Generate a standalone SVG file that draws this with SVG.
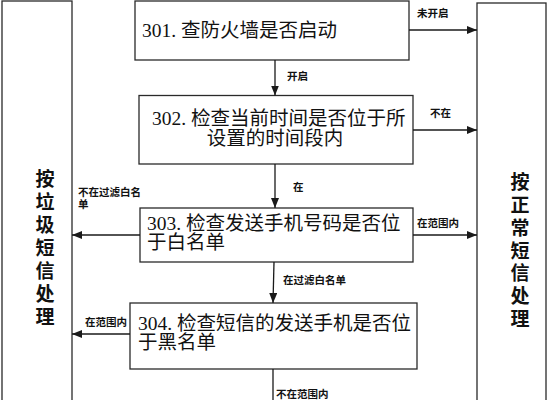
<svg xmlns="http://www.w3.org/2000/svg" width="548" height="400" viewBox="0 0 548 400">
<defs>
<marker id="ah" markerWidth="10" markerHeight="8" refX="10" refY="4" orient="auto" markerUnits="userSpaceOnUse">
<path d="M0,0 L10,4 L0,8 Z" fill="#1a1a1a"/>
</marker>
<style>
.box{fill:#fff;stroke:#2a2a2a;stroke-width:1.3}
.main{font-family:"Liberation Serif","Noto Sans CJK SC",serif;font-size:19.5px;fill:#111}
.side{font-family:"Liberation Serif","Noto Sans CJK SC",serif;font-size:19px;font-weight:bold;fill:#111;text-anchor:middle}
.lbl{font-family:"Liberation Serif","Noto Sans CJK SC",serif;font-size:10.5px;font-weight:bold;fill:#111}
.conn line{stroke:#1a1a1a;stroke-width:1.3;fill:none}
</style>
</defs>
<rect width="548" height="400" fill="#fff"/>
<g id="junk">
<rect class="box" x="2" y="1" width="70" height="410"/>
<text class="side"><tspan x="45" y="186">按</tspan><tspan x="45" y="209">垃</tspan><tspan x="45" y="232">圾</tspan><tspan x="45" y="255">短</tspan><tspan x="45" y="278">信</tspan><tspan x="45" y="301">处</tspan><tspan x="45" y="324">理</tspan></text>
</g>
<g id="normal">
<rect class="box" x="477" y="3" width="69" height="410"/>
<text class="side"><tspan x="520" y="189">按</tspan><tspan x="520" y="212">正</tspan><tspan x="520" y="235">常</tspan><tspan x="520" y="257.5">短</tspan><tspan x="520" y="280">信</tspan><tspan x="520" y="303">处</tspan><tspan x="520" y="325.5">理</tspan></text>
</g>
<g id="n301">
<rect class="box" x="135" y="1" width="274" height="59"/>
<text class="main" x="142" y="37">301. 查防火墙是否启动</text>
</g>
<g id="n302">
<rect class="box" x="139" y="95.5" width="274" height="68.5"/>
<text class="main"><tspan x="152" y="125">302. 检查当前时间是否位于所</tspan><tspan x="275" y="145" text-anchor="middle">设置的时间段内</tspan></text>
</g>
<g id="n303">
<rect class="box" x="140" y="208" width="273" height="54"/>
<text class="main"><tspan x="147" y="230">303. 检查发送手机号码是否位</tspan><tspan x="147" y="249">于白名单</tspan></text>
</g>
<g id="n304">
<rect class="box" x="130" y="303" width="287" height="66"/>
<text class="main"><tspan x="138" y="330">304. 检查短信的发送手机是否位</tspan><tspan x="138" y="349">于黑名单</tspan></text>
</g>
<g id="connectors" class="conn">
<line x1="409" y1="30" x2="477" y2="30" marker-end="url(#ah)"/>
<line x1="275" y1="60" x2="275" y2="95.5" marker-end="url(#ah)"/>
<line x1="413" y1="130" x2="477" y2="130" marker-end="url(#ah)"/>
<line x1="275" y1="164" x2="275" y2="208" marker-end="url(#ah)"/>
<line x1="140" y1="235" x2="72" y2="235" marker-end="url(#ah)"/>
<line x1="413" y1="235" x2="477" y2="235" marker-end="url(#ah)"/>
<line x1="274" y1="262" x2="273" y2="303" marker-end="url(#ah)"/>
<line x1="130" y1="334" x2="72" y2="334" marker-end="url(#ah)"/>
<line x1="273" y1="369" x2="273" y2="400"/>
</g>
<g id="labels">
<text class="lbl" x="417" y="17">未开启</text>
<text class="lbl" x="287" y="80">开启</text>
<text class="lbl" x="430" y="117">不在</text>
<text class="lbl" x="293" y="191">在</text>
<text class="lbl"><tspan x="78" y="196">不在过滤白名</tspan><tspan x="78" y="208">单</tspan></text>
<text class="lbl" x="417" y="227">在范围内</text>
<text class="lbl" x="283" y="284">在过滤白名单</text>
<text class="lbl" x="85" y="326">在范围内</text>
<text class="lbl" x="276" y="398">不在范围内</text>
</g>
</svg>
